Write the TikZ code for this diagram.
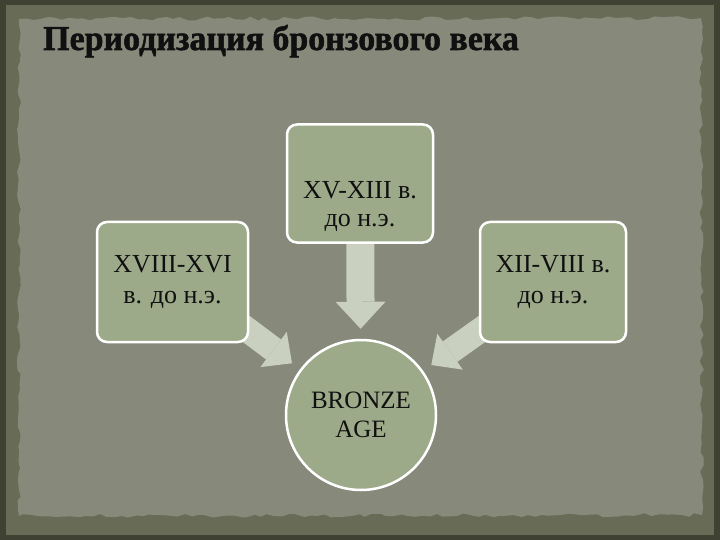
\documentclass[tikz,border=0pt]{standalone}
\usepackage{fontspec}
\setmainfont{Liberation Serif}
\newfontfamily\titlefont[FakeStretch=0.97, BoldFeatures={FakeBold=1.5}]{Liberation Serif}
\usepackage{xcolor}
\usetikzlibrary{arrows.meta,decorations.pathmorphing}

\definecolor{frameout}{HTML}{3F4232}
\definecolor{frame}{HTML}{686B55}
\definecolor{paper}{HTML}{878A7B}
\definecolor{sage}{HTML}{9DAA89}
\definecolor{pale}{HTML}{C9D0BF}
\definecolor{ink}{HTML}{101010}

\pgfdeclarelayer{paperlayer}
\pgfdeclarelayer{arrowlayer}
\pgfsetlayers{paperlayer,arrowlayer,main}

\begin{document}
\begin{tikzpicture}[x=1pt,y=-1pt,
    period/.style={draw=white, line width=2.5pt, fill=sage, rounded corners=10pt,
                   minimum width=146pt, minimum height=118pt, inner sep=0pt,
                   align=center, text=ink, font=\fontsize{26}{31}\selectfont},
    bronze/.style={circle, draw=white, line width=2.5pt, fill=sage,
                   minimum size=150pt, inner sep=0pt, align=center, text=ink,
                   font=\fontsize{25}{29}\selectfont},
    blockarrow/.style={draw=pale, line width=25pt,
                   -{Triangle[length=23pt,width=44pt,line width=0pt]}}]
  \useasboundingbox (0,0) rectangle (720,540);

  % paper ----------------------------------------------------------------------
  \begin{pgfonlayer}{paperlayer}
    \fill[frameout] (0,0) rectangle (720,540);
    \fill[frame] (6,5) rectangle (714,535);
    \pgfmathsetseed{7}
    \fill[paper, decorate, decoration={random steps, segment length=7pt, amplitude=2pt}]
          (19,19) -- (701,18) -- (702,515) -- (19,516) -- cycle;
  \end{pgfonlayer}

  % title ----------------------------------------------------------------------
  \node[anchor=base west, inner sep=0pt, text=ink,
        font=\titlefont\bfseries\fontsize{35}{38}\selectfont]
        (title) at (43,50) {Периодизация бронзового века};

  % periods --------------------------------------------------------------------
  \node[period] (middle) at (360,183.5) {};
  \node[anchor=base, text=ink, font=\fontsize{26}{28}\selectfont, align=center]
        (middletext) at (360,226) {XV-XIII в.\\до н.э.};
  \node[period, minimum width=151pt, minimum height=120pt] (early) at (172.5,282)
        {XVIII-XVI\\в. до н.э.};
  \node[period, minimum height=120pt] (late) at (553,282) {XII-VIII в.\\до н.э.};

  % centre -----------------------------------------------------------------------
  \node[bronze] (age) at (361,415) {BRONZE\\AGE};

  % arrows -----------------------------------------------------------------------
  \begin{pgfonlayer}{arrowlayer}
    \draw[blockarrow, line width=28pt, -{Triangle[length=27pt,width=50pt,line width=0pt]},
          shorten >=10pt] (middle) -- (age);
    \draw[blockarrow, shorten <=-20pt, shorten >=10pt]
          ([yshift=12pt]early.south east) -- (age);
    \draw[blockarrow, shorten <=-20pt, shorten >=10pt]
          ([yshift=12pt]late.south west) -- (age);
  \end{pgfonlayer}
\end{tikzpicture}
\end{document}
